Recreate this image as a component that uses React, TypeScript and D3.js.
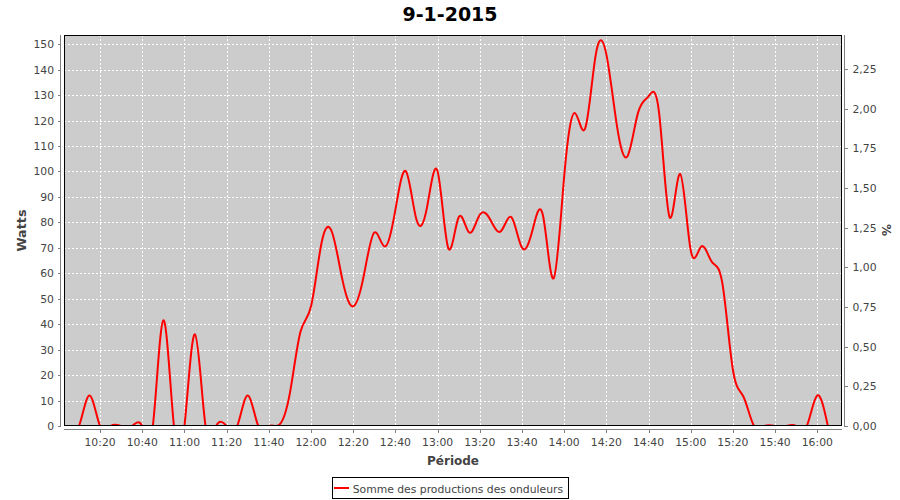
import React from "react";
import * as d3 from "d3";

const TITLE = "9-1-2015";
const SERIES_NAME = "Somme des productions des onduleurs";
const X_LABEL = "Période";
const Y_LABEL = "Watts";
const Y2_LABEL = "%";

const TIMES = [
  "10:05", "10:10", "10:15", "10:20", "10:25", "10:30", "10:35", "10:40", "10:45", "10:50", "10:55",
  "11:00", "11:05", "11:10", "11:15", "11:20", "11:25", "11:30", "11:35", "11:40", "11:45", "11:50", "11:55",
  "12:00", "12:05", "12:10", "12:15", "12:20", "12:25", "12:30", "12:35", "12:40", "12:45", "12:50", "12:55",
  "13:00", "13:05", "13:10", "13:15", "13:20", "13:25", "13:30", "13:35", "13:40", "13:45", "13:50", "13:55",
  "14:00", "14:05", "14:10", "14:15", "14:20", "14:25", "14:30", "14:35", "14:40", "14:45", "14:50", "14:55",
  "15:00", "15:05", "15:10", "15:15", "15:20", "15:25", "15:30", "15:35", "15:40", "15:45", "15:50", "15:55",
  "16:00", "16:05",
];

const WATTS = [
  0, 0, 12, 0, 0, 0, 0, 0, 0, 41.5, 0,
  0, 36, 0, 0, 0, 0, 12, 0, 0, 0.5, 13, 37,
  47, 72, 76, 57, 47, 59, 76, 70.5, 85, 100, 81, 86,
  100, 70, 82, 76, 83, 81, 76.5, 82, 70, 77, 82.5, 58,
  98, 123, 117, 146, 146, 118, 106, 123, 129.5, 123, 82, 99,
  69, 70.5, 64.5, 56, 22, 11.5, 0, 0, 0, 0, 0, 0,
  12, 0,
];

const WATT_TICKS = [0, 10, 20, 30, 40, 50, 60, 70, 80, 90, 100, 110, 120, 130, 140, 150];
const PCT_TICKS = [0, 0.25, 0.5, 0.75, 1, 1.25, 1.5, 1.75, 2, 2.25];
const TIME_TICKS = [
  "10:20", "10:40", "11:00", "11:20", "11:40", "12:00", "12:20", "12:40", "13:00",
  "13:20", "13:40", "14:00", "14:20", "14:40", "15:00", "15:20", "15:40", "16:00",
];
const TIME_RANGE = ["10:02:54", "16:11:42"];
const WATT_MAX = 153.6;
const PCT_MAX = 2.4643;

function parseT(s: string): Date {
  const p = s.split(":").map(Number);
  return new Date(2015, 0, 9, p[0], p[1], p[2] || 0);
}

export default function App() {
  const W = 900;
  const H = 500;
  const left = 64;
  const right = 842;
  const top = 35;
  const bottom = 426;

  const x = d3.scaleTime().domain(TIME_RANGE.map(parseT)).range([left, right]);
  const y = d3.scaleLinear().domain([0, WATT_MAX]).range([bottom, top]);
  const y2 = d3.scaleLinear().domain([0, PCT_MAX]).range([bottom, top]);

  const pts: [number, number][] = TIMES.map((t, i) => [x(parseT(t)), y(WATTS[i])]);
  const path = d3.line().curve(d3.curveNatural)(pts) || "";

  const font = "'DejaVu Sans', sans-serif";
  const tickColor = "#444444";
  const axisColor = "#808080";
  const fmtPct = (v: number) => d3.format(".2f")(v).replace(".", ",");
  const px = (v: number) => Math.round(v) + 0.5;

  return (
    <svg
      width={W}
      height={H}
      viewBox={`0 0 ${W} ${H}`}
      style={{ position: "absolute", left: 0, top: 0, background: "#fff" }}
      fontFamily={font}
    >
      <defs>
        <clipPath id="plotClip">
          <rect x={left} y={top} width={right - left} height={bottom - top} />
        </clipPath>
      </defs>
      <rect x={0} y={0} width={W} height={H} fill="#ffffff" />

      <text x={450} y={21} textAnchor="middle" fontSize={19} fontWeight="bold" fill="#000">
        {TITLE}
      </text>

      {/* plot background */}
      <rect x={left} y={top} width={right - left} height={bottom - top} fill="#cccccc" />

      {/* gridlines */}
      <g stroke="#ffffff" strokeWidth={1} strokeDasharray="2,2" shapeRendering="crispEdges">
        {WATT_TICKS.filter((v) => v > 0).map((v) => (
          <line key={"gy" + v} x1={left} x2={right} y1={px(y(v))} y2={px(y(v))} />
        ))}
        {TIME_TICKS.map((t) => (
          <line key={"gx" + t} y1={top} y2={bottom} x1={px(x(parseT(t)))} x2={px(x(parseT(t)))} />
        ))}
      </g>

      {/* series */}
      <g clipPath="url(#plotClip)">
        <path d={path} fill="none" stroke="#ff0000" strokeWidth={2} strokeLinejoin="round" />
      </g>

      {/* plot outline */}
      <rect
        x={left + 0.5}
        y={top + 0.5}
        width={right - left - 1}
        height={bottom - top - 1}
        fill="none"
        stroke="#000"
        strokeWidth={1}
        shapeRendering="crispEdges"
      />

      {/* left axis */}
      <g shapeRendering="crispEdges">
        <line x1={60.5} x2={60.5} y1={top} y2={bottom} stroke={axisColor} />
        {WATT_TICKS.map((v) => (
          <line key={"ly" + v} x1={58} x2={61} y1={px(y(v))} y2={px(y(v))} stroke={axisColor} />
        ))}
      </g>
      {WATT_TICKS.map((v) => (
        <text key={"lt" + v} x={54} y={y(v) + 4} textAnchor="end" fontSize={10.8} fill={tickColor}>
          {v}
        </text>
      ))}

      {/* right axis */}
      <g shapeRendering="crispEdges">
        <line x1={844.5} x2={844.5} y1={top} y2={bottom} stroke={axisColor} />
        {PCT_TICKS.map((v) => (
          <line key={"ry" + v} x1={844} x2={848} y1={px(y2(v))} y2={px(y2(v))} stroke={axisColor} />
        ))}
      </g>
      {PCT_TICKS.map((v) => (
        <text key={"rt" + v} x={852.5} y={y2(v) + 4} textAnchor="start" fontSize={10.8} fill={tickColor}>
          {fmtPct(v)}
        </text>
      ))}

      {/* bottom axis */}
      <g shapeRendering="crispEdges">
        <line x1={left} x2={right} y1={429.5} y2={429.5} stroke={axisColor} />
        {TIME_TICKS.map((t) => (
          <line
            key={"bx" + t}
            x1={px(x(parseT(t)))}
            x2={px(x(parseT(t)))}
            y1={429}
            y2={433}
            stroke={axisColor}
          />
        ))}
      </g>
      {TIME_TICKS.map((t) => (
        <text key={"bt" + t} x={x(parseT(t))} y={445.7} textAnchor="middle" fontSize={10.8} fill={tickColor}>
          {t}
        </text>
      ))}

      {/* axis labels */}
      <text
        transform="translate(26,230.5) rotate(-90)"
        textAnchor="middle"
        fontSize={12.8}
        fontWeight="bold"
        fill={tickColor}
      >
        {Y_LABEL}
      </text>
      <text x={453} y={464.5} textAnchor="middle" fontSize={12} fontWeight="bold" fill={tickColor}>
        {X_LABEL}
      </text>
      <text
        transform="translate(882,230) rotate(90)"
        textAnchor="middle"
        fontSize={12}
        fontWeight="bold"
        fill={tickColor}
      >
        {Y2_LABEL}
      </text>

      {/* legend */}
      <rect x={332.5} y={477.5} width={236} height={21} fill="#fff" stroke="#000" shapeRendering="crispEdges" />
      <line x1={334} x2={349} y1={488} y2={488} stroke="#ff0000" strokeWidth={2} />
      <text x={352.7} y={493} fontSize={10.8} fill={tickColor}>
        {SERIES_NAME}
      </text>
    </svg>
  );
}
